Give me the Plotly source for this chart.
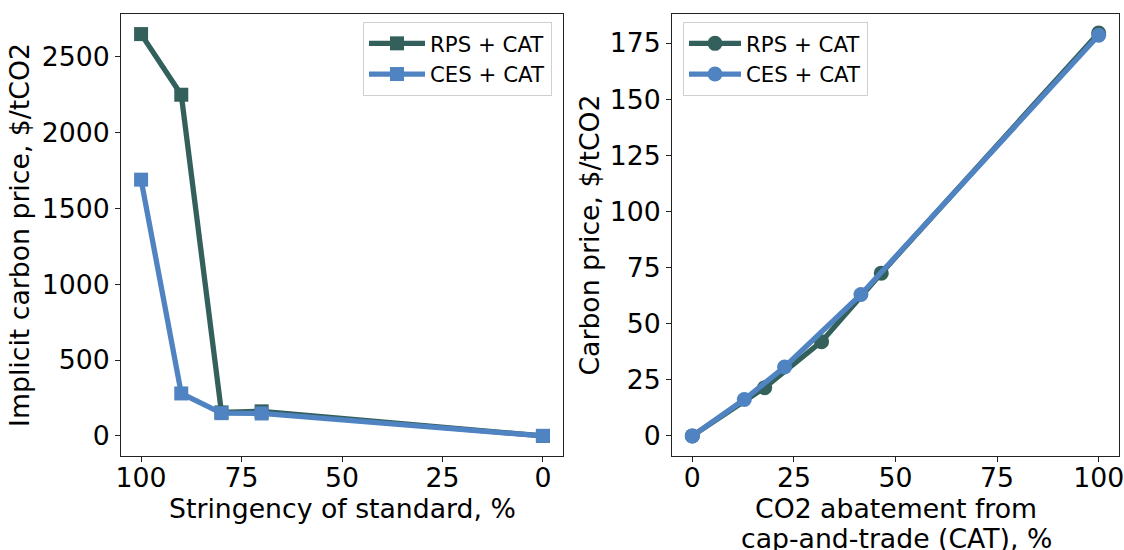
import plotly.graph_objects as go

# Left panel: stringency of standard vs implicit carbon price
stringency = [100, 90, 80, 70, 0]
rps_implicit = [2650, 2250, 155, 162, 0]
ces_implicit = [1690, 280, 150, 148, 0]

# Right panel: CO2 abatement from CAT vs carbon price
rps_abate = [0, 17.8, 31.8, 46.5, 100]
rps_price = [0, 21.5, 42.0, 72.5, 179.5]
ces_abate = [0, 12.8, 22.7, 41.5, 100]
ces_price = [0, 16.2, 30.7, 63.0, 178.5]

series_names = ["RPS + CAT", "CES + CAT"]
x_title_left = "Stringency of standard, %"
x_title_right_lines = ["CO2 abatement from", "cap-and-trade (CAT), %"]
y_titles = ["Implicit carbon price, $/tCO2", "Carbon price, $/tCO2"]
dark = "#33605B"
blue = "#5083C1"
FONT = "DejaVu Sans"
FS = 26.7
LFS = 21.3

fig = go.Figure()

fig.add_trace(go.Scatter(x=stringency, y=rps_implicit, name=series_names[0], mode="lines+markers",
                         line=dict(color=dark, width=5.3), marker=dict(symbol="square", size=14, color=dark),
                         xaxis="x", yaxis="y", legend="legend"))
fig.add_trace(go.Scatter(x=stringency, y=ces_implicit, name=series_names[1], mode="lines+markers",
                         line=dict(color=blue, width=5.3), marker=dict(symbol="square", size=14, color=blue),
                         xaxis="x", yaxis="y", legend="legend"))
fig.add_trace(go.Scatter(x=rps_abate, y=rps_price, name=series_names[0], mode="lines+markers",
                         line=dict(color=dark, width=5.3), marker=dict(symbol="circle", size=15, color=dark),
                         xaxis="x2", yaxis="y2", legend="legend2"))
fig.add_trace(go.Scatter(x=ces_abate, y=ces_price, name=series_names[1], mode="lines+markers",
                         line=dict(color=blue, width=5.3), marker=dict(symbol="circle", size=15, color=blue),
                         xaxis="x2", yaxis="y2", legend="legend2"))

axis_common = dict(showline=True, mirror=True, linecolor="#222", linewidth=1, ticks="outside",
                   ticklen=5, tickwidth=1, tickcolor="#222", showgrid=False, zeroline=False,
                   tickfont=dict(family=FONT, size=FS, color="black"), automargin=False,
                   ticklabeloverflow="allow")

y0, y1 = 1 - 456 / 550, 1 - 14 / 550

fig.update_layout(
    width=1124, height=550,
    margin=dict(l=0, r=0, t=0, b=0),
    paper_bgcolor="white", plot_bgcolor="white",
    font=dict(family=FONT, color="black"),
    xaxis=dict(domain=[121 / 1124, 563 / 1124], range=[105, -5], tickvals=[100, 75, 50, 25, 0],
               anchor="y", ticklabelstandoff=-7, **axis_common),
    yaxis=dict(domain=[y0, y1], range=[-132.5, 2782.5], tickvals=[0, 500, 1000, 1500, 2000, 2500],
               title=dict(text=y_titles[0], font=dict(size=FS), standoff=4),
               anchor="x", **axis_common),
    xaxis2=dict(domain=[672 / 1124, 1119 / 1124], range=[-5, 105], tickvals=[0, 25, 50, 75, 100],
                anchor="y2", ticklabelstandoff=-7, **axis_common),
    yaxis2=dict(domain=[y0, y1], range=[-8.95, 187.95], tickvals=[0, 25, 50, 75, 100, 125, 150, 175],
                title=dict(text=y_titles[1], font=dict(size=FS), standoff=2),
                anchor="x2", **axis_common),
    legend=dict(x=552 / 1124, y=1 - 22 / 550, xanchor="right", yanchor="top",
                bordercolor="#d0d0d0", borderwidth=1, bgcolor="rgba(255,255,255,0.8)",
                font=dict(family=FONT, size=LFS, color="black"), itemwidth=56, tracegroupgap=0),
    legend2=dict(x=683 / 1124, y=1 - 22 / 550, xanchor="left", yanchor="top",
                 bordercolor="#d0d0d0", borderwidth=1, bgcolor="rgba(255,255,255,0.8)",
                 font=dict(family=FONT, size=LFS, color="black"), itemwidth=52, tracegroupgap=0),
    annotations=[
        dict(text=x_title_left, xref="paper", yref="paper", x=342 / 1124, y=1 - 508 / 550,
             xanchor="center", yanchor="middle", showarrow=False, font=dict(size=FS)),
        dict(text=x_title_right_lines[0], xref="paper", yref="paper", x=896 / 1124, y=1 - 508 / 550,
             xanchor="center", yanchor="middle", showarrow=False, font=dict(size=FS)),
        dict(text=x_title_right_lines[1], xref="paper", yref="paper", x=896 / 1124, y=1 - 538 / 550,
             xanchor="center", yanchor="middle", showarrow=False, font=dict(size=FS)),
    ],
)

fig.write_html("out.html")
